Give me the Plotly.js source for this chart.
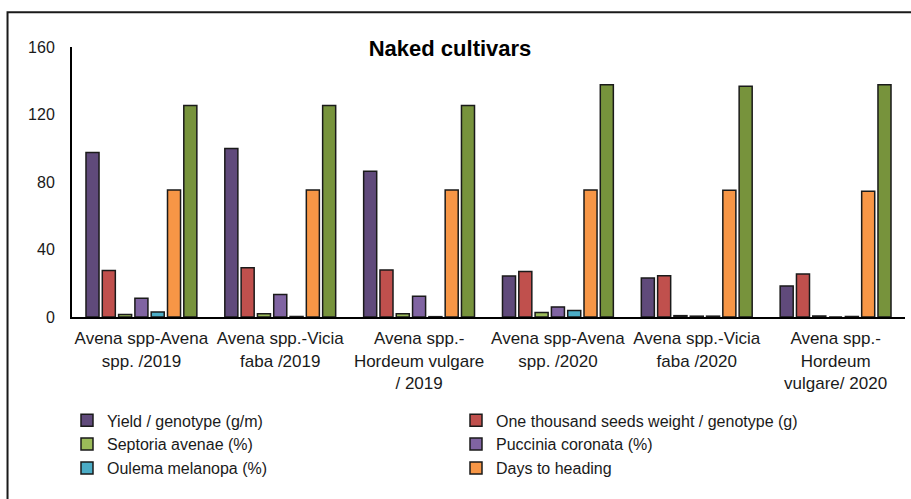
<!DOCTYPE html>
<html>
<head>
<meta charset="utf-8">
<script src="https://cdn.plot.ly/plotly-3.0.1.min.js"></script>
<style>
  html, body { margin: 0; padding: 0; background: #fff; }
  #chart { width: 911px; height: 499px; }
</style>
</head>
<body>
<div id="chart"></div>
<script>
// Cropping systems and seasons
const categories = [
  'Avena spp-Avena<br>spp. /2019',
  'Avena spp.-Vicia<br>faba /2019',
  'Avena spp.-<br>Hordeum vulgare<br>/ 2019',
  'Avena spp-Avena<br>spp. /2020',
  'Avena spp.-Vicia<br>faba /2020',
  'Avena spp.-<br>Hordeum<br>vulgare/ 2020'
];

// Traits of the naked oat cultivars, one value per cropping system
const yieldPerGenotype = [97.5, 99.9, 86.3, 24.3, 23.1, 18.4];
const thousandSeedWeight = [27.6, 29.2, 27.9, 27.0, 24.5, 25.5];
const septoriaAvenae = [1.5, 1.9, 1.9, 2.7, 0.8, 0.6];
const pucciniaCoronata = [11.1, 13.3, 12.3, 6.0, 0.5, 0.0];
const oulemaMelanopa = [3.0, 0.3, 0.2, 3.8, 0.5, 0.3];
const daysToHeading = [75.3, 75.3, 75.3, 75.3, 75.1, 74.5];
// seventh series, drawn without a legend entry
const extraSeries = [125.3, 125.3, 125.3, 137.7, 136.7, 137.7];

const yTicks = [0, 40, 80, 120, 160];

const outline = { color: '#1a1a1a', width: 1.5 };

function barTrace(name, values, color, showlegend) {
  return {
    type: 'bar',
    name: name,
    x: categories,
    y: values,
    marker: { color: color, line: outline },
    showlegend: showlegend
  };
}

const traces = [
  barTrace('Yield / genotype (g/m)', yieldPerGenotype, '#604A7B', true),
  barTrace('One thousand seeds weight / genotype (g)', thousandSeedWeight, '#C0504D', true),
  barTrace('Septoria avenae (%)', septoriaAvenae, '#9BBB59', true),
  barTrace('Puccinia coronata (%)', pucciniaCoronata, '#8064A2', true),
  barTrace('Oulema melanopa (%)', oulemaMelanopa, '#4BACC6', true),
  barTrace('Days to heading', daysToHeading, '#F79646', true),
  barTrace('', extraSeries, '#77933C', false)
];

const font = 'Liberation Sans, Arial, sans-serif';

const layout = {
  width: 911,
  height: 499,
  margin: { l: 72, r: 6, t: 46.5, b: 181.5 },
  paper_bgcolor: '#fff',
  plot_bgcolor: '#fff',
  barmode: 'group',
  bargap: 0.178,
  bargroupgap: 0.2,
  font: { family: font, color: '#1a1a1a' },
  title: {
    text: 'Naked cultivars',
    x: 0.494,
    xanchor: 'center',
    y: 0.904,
    yanchor: 'middle',
    font: { family: font, size: 22, weight: 'bold', color: '#000' }
  },
  xaxis: {
    type: 'category',
    showline: true,
    linecolor: '#000',
    linewidth: 2,
    ticks: '',
    showgrid: false,
    zeroline: false,
    tickfont: { family: font, size: 17, color: '#1a1a1a' },
    ticklabelstandoff: 5
  },
  yaxis: {
    range: [0, 160],
    tickvals: yTicks,
    ticktext: yTicks.map(String),
    showline: true,
    linecolor: '#000',
    linewidth: 2,
    ticks: '',
    showgrid: false,
    zeroline: false,
    tickfont: { family: font, size: 16, color: '#1a1a1a' },
    ticklabelstandoff: 12
  },
  legend: {
    orientation: 'h',
    x: -0.006,
    xanchor: 'left',
    y: -0.32,
    yanchor: 'top',
    entrywidth: 344,
    entrywidthmode: 'pixels',
    font: { family: font, size: 16, color: '#1a1a1a' },
    itemclick: false,
    traceorder: 'normal'
  },
  shapes: [
    {
      type: 'path',
      xref: 'paper',
      yref: 'paper',
      path: 'M -0.0774 -0.7 L -0.0774 1.129 L 1.02 1.129',
      line: { color: '#1a1a1a', width: 2 }
    }
  ]
};

Plotly.newPlot('chart', traces, layout, { displayModeBar: false, staticPlot: true });
</script>
</body>
</html>
